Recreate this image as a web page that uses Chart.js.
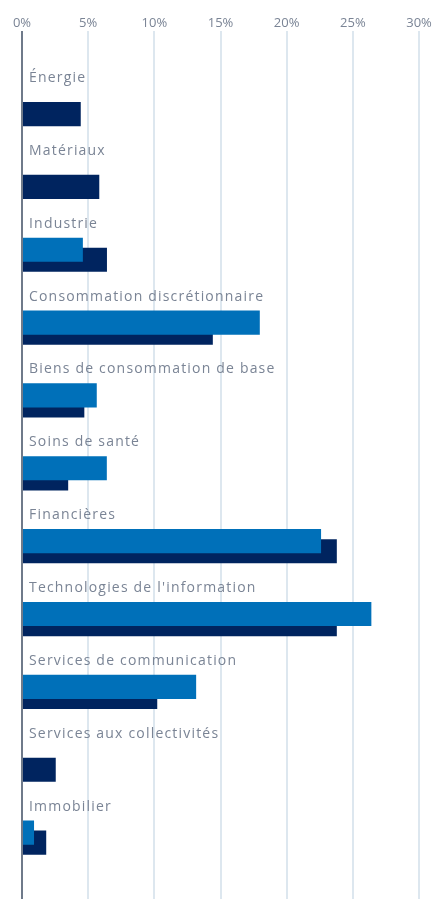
<!DOCTYPE html>
<html>
<head>
<meta charset="utf-8">
<script src="https://cdn.jsdelivr.net/npm/chart.js@4"></script>
<style>
  html, body { margin: 0; padding: 0; background: #ffffff; }
  #wrap { width: 432px; height: 899px; position: relative; }
</style>
</head>
<body>
<div id="wrap"><canvas id="c" width="432" height="899"></canvas></div>
<script>
const categories = [
  "Énergie",
  "Matériaux",
  "Industrie",
  "Consommation discrétionnaire",
  "Biens de consommation de base",
  "Soins de santé",
  "Financières",
  "Technologies de l'information",
  "Services de communication",
  "Services aux collectivités",
  "Immobilier"
];
const seriesLight = [null, null, 4.6, 17.97, 5.65, 6.41, 22.6, 26.4, 13.16, null, 0.91];
const seriesDark  = [4.44, 5.84, 6.42, 14.42, 4.71, 3.49, 23.79, 23.79, 10.22, 2.55, 1.83];
const tickValues = [0, 5, 10, 15, 20, 25, 30];

const TEXT = "#7a8495";
const FONT = "'Open Sans', sans-serif";

const labelPlugin = {
  id: "catLabels",
  afterDatasetsDraw(chart) {
    const ctx = chart.ctx;
    const ys = chart.scales.y;
    ctx.save();
    ctx.font = "400 14px " + FONT;
    const ref = ctx.measureText(categories[3]).width;
    const ls = (234 - ref) / (categories[3].length - 1);
    ctx.letterSpacing = ls.toFixed(2) + "px";
    ctx.fillStyle = TEXT;
    ctx.textAlign = "left";
    ctx.textBaseline = "middle";
    categories.forEach((c, i) => {
      ctx.fillText(c, 29, ys.getPixelForValue(i) - 31);
    });
    ctx.restore();
  }
};

const toPoints = arr => arr.map((v, i) => ({ x: v, y: i }));

new Chart(document.getElementById("c"), {
  type: "bar",
  data: {
    datasets: [
      { label: "A", data: toPoints(seriesLight), backgroundColor: "#0070b9" },
      { label: "B", data: toPoints(seriesDark), backgroundColor: "#00245f" }
    ]
  },
  options: {
    indexAxis: "y",
    responsive: false,
    animation: false,
    events: [],
    layout: { padding: { top: 15, right: 13, left: 22, bottom: 0 } },
    datasets: {
      bar: { categoryPercentage: 20 / 72.4, barPercentage: 2.4, borderWidth: 0 }
    },
    plugins: { legend: { display: false }, tooltip: { enabled: false } },
    scales: {
      x: {
        position: "top",
        min: 0,
        max: 30,
        afterBuildTicks: s => { s.ticks = tickValues.map(v => ({ value: v })); },
        ticks: {
          padding: 0,
          color: TEXT,
          font: { family: FONT, size: 13, weight: "400" },
          callback: v => v + "%"
        },
        grid: {
          drawTicks: false,
          lineWidth: 2,
          color: c => (c.tick && c.tick.value === 0) ? "#6f7a8a" : "#dde7ef"
        },
        border: { display: false }
      },
      y: {
        type: "linear",
        reverse: true,
        display: false,
        offset: false,
        grid: { offset: false },
        min: -1.077,
        max: 10.843,
        ticks: { stepSize: 1, includeBounds: false }
      }
    }
  },
  plugins: [labelPlugin]
});
</script>
</body>
</html>
